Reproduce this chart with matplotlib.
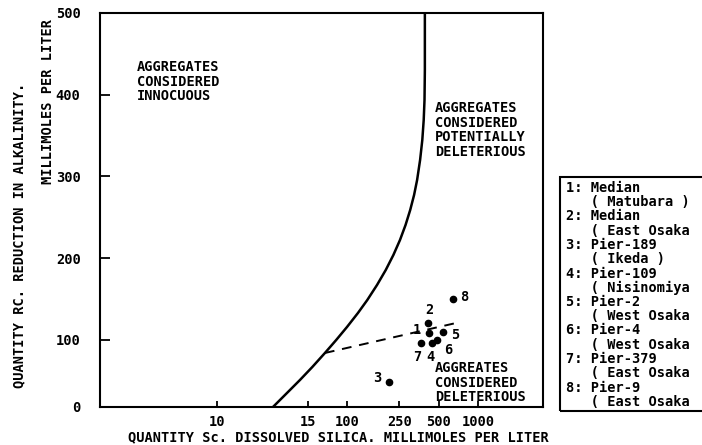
import numpy as np
import matplotlib
matplotlib.use("Agg")
import matplotlib.pyplot as plt
from matplotlib.patches import Rectangle

# boundary curve (dissolved silica Sc vs reduction in alkalinity Rc)
curve_sc = [26.86, 34.4, 43.25, 53.8, 67.2, 82.0, 99.2, 120.3, 141.9, 168.5, 196.5,
            224.9, 252.6, 278.7, 302.5, 324.0, 341.7, 360.2, 374.5, 383.9, 389.4,
            391.8, 391.8]
curve_rc = [0, 20.9, 40.3, 59.7, 80.6, 100, 115.9, 133.0, 148.9, 167.3, 185.6,
            204.0, 222.3, 240.7, 259.0, 277.4, 295.7, 320.2, 344.6, 369.1, 393.6,
            430.3, 500]

# dashed line
dash_sc = [67.2, 690]
dash_rc = [80.6, 121]

# samples
sample_ids = ["1", "2", "3", "4", "5", "6", "7", "8"]
sample_sc = [422, 414, 208, 445, 540, 485, 366, 643]
sample_rc = [108.6, 121, 37, 95.5, 110, 100, 95.5, 150]

legend_lines = [
    "1: Median", "   ( Matubara )",
    "2: Median", "   ( East Osaka",
    "3: Pier-189", "   ( Ikeda )",
    "4: Pier-109", "   ( Nisinomiya",
    "5: Pier-2", "   ( West Osaka",
    "6: Pier-4", "   ( West Osaka",
    "7: Pier-379", "   ( East Osaka",
    "8: Pier-9", "   ( East Osaka",
]

xtick_vals = [10, 50, 100, 250, 500, 1000]
xtick_labels = ["10", "15", "100", "250", "500", "1000"]
ytick_vals = [0, 100, 200, 300, 400, 500]

FONT = "DejaVu Sans Mono"
FS = 9.8

# label offsets (pixels) for the sample numbers
label_off = [(-12, 3), (1, 13), (-12, 4), (-2, -14), (12, -3), (11, -10), (-4, -14), (11, 2)]


def fwd(y):
    y = np.asarray(y, dtype=float)
    return np.where(y < 100, 0.82 * y, y - 18.0)


def inv(f):
    f = np.asarray(f, dtype=float)
    return np.where(f < 82, f / 0.82, f + 18.0)


fig = plt.figure(figsize=(7.02, 4.45), dpi=100)
ax = fig.add_axes([100 / 702, 1 - 407 / 445, 443 / 702, 394 / 445])
ax.set_xscale("log")
ax.set_yscale("function", functions=(fwd, inv))
ax.set_xlim(1.27, 3150)
ax.set_ylim(0, 500)

ax.plot(curve_sc, curve_rc, color="black", lw=1.8, solid_joinstyle="round")
ax.plot(dash_sc, dash_rc, color="black", lw=1.4, linestyle=(0, (5, 4)))
ax.plot(sample_sc, sample_rc, "o", color="black", markersize=4.5)

for sid, sx, sy, (dx, dy) in zip(sample_ids, sample_sc, sample_rc, label_off):
    ax.annotate(sid, (sx, sy), xytext=(dx * 0.72, dy * 0.72), textcoords="offset points",
                ha="center", va="center", fontsize=FS, fontweight="bold", family=FONT)

ax.set_xticks(xtick_vals)
ax.set_xticklabels(xtick_labels)
ax.xaxis.set_minor_locator(matplotlib.ticker.NullLocator())
ax.set_yticks(ytick_vals)
ax.set_yticklabels([str(v) for v in ytick_vals])
ax.yaxis.set_minor_locator(matplotlib.ticker.NullLocator())
ax.tick_params(axis="both", direction="in", width=1.3, colors="black")
ax.tick_params(axis="y", length=7, pad=14)
ax.tick_params(axis="x", length=4, pad=6)
for lab in ax.get_xticklabels() + ax.get_yticklabels():
    lab.set_fontfamily(FONT)
    lab.set_fontweight("bold")
    lab.set_fontsize(FS)
for sp in ax.spines.values():
    sp.set_linewidth(1.5)

txt_kw = dict(fontsize=FS, fontweight="bold", family=FONT, ha="left", va="top",
              linespacing=1.05)
fig.text(137 / 702, 1 - 60 / 445, "AGGREGATES\nCONSIDERED\nINNOCUOUS", **txt_kw)
fig.text(435 / 702, 1 - 101 / 445,
         "AGGREGATES\nCONSIDERED\nPOTENTIALLY\nDELETERIOUS", **txt_kw)
fig.text(435 / 702, 1 - 361 / 445, "AGGREATES\nCONSIDERED\nDELETERIOUS", **txt_kw)

fig.text(338 / 702, 1 - 437 / 445, "QUANTITY Sc. DISSOLVED SILICA. MILLIMOLES PER LITER",
         fontsize=FS, fontweight="bold", family=FONT, ha="center", va="center")
fig.text(19 / 702, 1 - 235 / 445, "QUANTITY RC. REDUCTION IN ALKALINITY.",
         fontsize=FS, fontweight="bold", family=FONT, ha="center", va="center",
         rotation=90)
fig.text(48 / 702, 1 - 102 / 445, "MILLIMOLES PER LITER",
         fontsize=FS, fontweight="bold", family=FONT, ha="center", va="center",
         rotation=90)

# legend box
fig.patches.append(Rectangle((560 / 702, 1 - 411 / 445), 150 / 702, 234 / 445,
                             transform=fig.transFigure, fill=False, lw=1.5,
                             edgecolor="black"))
for i, line in enumerate(legend_lines):
    fig.text(566 / 702, 1 - (188 + i * 14.25) / 445, line, fontsize=FS,
             fontweight="bold", family=FONT, ha="left", va="center")

fig.savefig("out.png", dpi=100)
